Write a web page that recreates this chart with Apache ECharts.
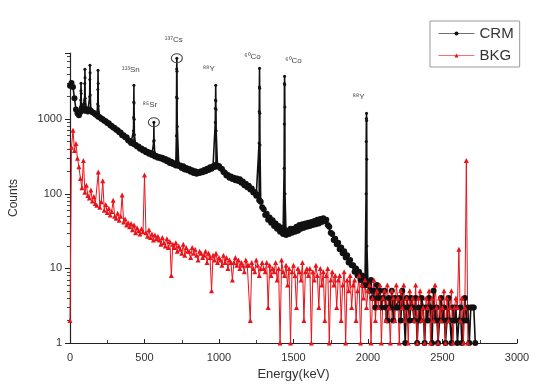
<!DOCTYPE html>
<html>
<head>
<meta charset="utf-8">
<script src="https://cdn.jsdelivr.net/npm/echarts@6/dist/echarts.min.js"></script>
<style>
  html, body {margin: 0; padding: 0; background: #fff;}
  #chart {width: 539px; height: 388px;}
</style>
</head>
<body>
<div id="chart"></div>
<script>
// channel spacing of the continuum arrays (keV)
const step = 10;

// CRM continuum, one value every 10 keV from 0 keV
const crmCounts = [
  2800, 3050, 2700, 1900, 1350, 1200, 1130, 1250, 1420, 1380,
  1300, 1360, 1270, 1350, 1300, 1240, 1210, 1160, 1130, 1080,
  1060, 1010, 1000, 950, 940, 890, 880, 830, 810, 770,
  760, 720, 710, 670, 660, 610, 610, 570, 570, 520,
  510, 480, 490, 460, 455, 430, 430, 400, 405, 380,
  385, 360, 365, 345, 355, 330, 340, 315, 320, 305,
  312, 298, 304, 285, 292, 272, 282, 258, 268, 250,
  256, 240, 252, 236, 240, 222, 234, 212, 222, 206,
  214, 198, 206, 190, 200, 186, 196, 190, 200, 194,
  208, 200, 216, 208, 226, 216, 234, 228, 244, 232,
  236, 220, 214, 196, 192, 176, 178, 164, 170, 158,
  164, 152, 160, 148, 156, 140, 146, 130, 136, 122,
  128, 114, 118, 104, 106, 94, 96, 82, 78, 66,
  62, 52, 54, 45, 48, 41, 44, 37, 40, 34,
  37, 31, 35, 29, 33, 28, 32, 29, 34, 30,
  34, 31, 36, 32, 38, 34, 39, 35, 40, 36,
  41, 37, 42, 38, 43, 39, 45, 40, 46, 42,
  47, 43, 45, 38, 36, 30, 29, 24, 25, 21,
  22, 18, 19, 16, 17, 14, 15, 12, 13, 11,
  11, 9, 10, 8, 9, 7, 8, 6, 7, 6,
  6, 5, 7, 4, 5, 3, 6, 4, 5, 3,
  4, 5, 3, 2, 4, 3, 5, 2, 4, 3,
  3, 4, 2, 5, 3, 1, 4, 3, 2, 4,
  3, 2, 4, 1, 3, 2, 4, 3, 1, 3,
  2, 4, 3, 1, 5, 2, 3, 1, 2, 4,
  2, 3, 1, 2, 4, 2, 1, 3, 2, 3,
  1, 2, 3, 1, 2, 4, 2, 3, 1, 3,
  3, 3, 1
];

// BKG continuum, one value every 10 keV from 0 keV
const bkgCounts = [
  2, 420, 710, 380, 470, 300, 230, 160, 120, 280,
  105, 130, 95, 88, 112, 80, 92, 74, 70, 195,
  66, 78, 150, 60, 72, 56, 64, 52, 58, 82,
  50, 47, 55, 44, 50, 96, 42, 46, 38, 41,
  36, 40, 33, 38, 30, 35, 32, 29, 34, 31,
  178, 30, 27, 33, 26, 29, 24, 28, 25, 27,
  24, 21, 26, 22, 20, 25, 19, 23, 8, 21,
  19, 22, 17, 20, 18, 16, 21, 15, 19, 17,
  17, 14, 19, 16, 18, 15, 13, 17, 16, 14,
  15, 17, 12, 16, 14, 5, 15, 13, 16, 12,
  14, 13, 11, 15, 12, 14, 10, 13, 12, 7,
  12, 14, 11, 13, 10, 12, 11, 9, 13, 11,
  11, 2, 12, 10, 9, 13, 11, 8, 10, 12,
  10, 9, 12, 3, 11, 8, 10, 9, 12, 7,
  10, 1, 13, 9, 8, 11, 6, 10, 1, 9,
  11, 8, 3, 10, 9, 7, 12, 2, 9, 10,
  8, 10, 1, 9, 7, 11, 8, 3, 10, 6,
  9, 2, 8, 10, 1, 7, 9, 6, 8, 3,
  7, 8, 2, 6, 9, 1, 7, 5, 8, 3,
  6, 7, 2, 5, 8, 1, 6, 4, 7, 3,
  5, 6, 1, 4, 7, 2, 5, 3, 6, 1,
  4, 5, 2, 6, 3, 1, 5, 4, 2, 6,
  4, 1, 5, 3, 6, 2, 4, 1, 5, 3,
  4, 2, 6, 1, 4, 5, 2, 3, 1, 4,
  3, 5, 1, 4, 2, 6, 3, 1, 4, 2,
  3, 5, 1, 4, 2, 3, 5, 1, 3, 4,
  3, 18, 2, 4, 1, 3, 280, 1
];

// CRM full-energy peaks: centre energy (keV) and 1 keV channel counts around it
const peakEnergy = [74, 100, 134, 188, 429, 563, 717, 978, 1272, 1440, 1990];
const peakChannels = [
  [1800, 2400, 3030, 2200, 1600],
  [1800, 3000, 4670, 3600, 1900],
  [2000, 3400, 5290, 4200, 2100],
  [1600, 2500, 4530, 3000, 1500],
  [700, 1050, 1700, 2850, 1650, 1000, 620],
  [500, 910, 520],
  [600, 1980, 4700, 6560, 4400, 1900, 800],
  [900, 1400, 1800, 2850, 1750, 1350, 700],
  [480, 1270, 2700, 4820, 2600, 1200, 450],
  [220, 860, 3000, 3770, 2900, 1450, 100],
  [100, 500, 1020, 1200, 960, 290, 20]
];
const peakLabels = ['', '', '', '', '¹¹³Sn', '⁸⁵Sr', '¹³⁷Cs', '⁸⁸Y', '⁶⁰Co', '⁶⁰Co', '⁸⁸Y'];
const circledPeaks = ['⁸⁵Sr', '¹³⁷Cs'];
const labelOffset = [[0, 0], [0, 0], [0, 0], [0, 0], [-3, -15], [-4, -17], [-3, -18], [-7, -16], [-7, -11], [9, -15], [-8, -16]];

const crmPoints = crmCounts.map((c, i) => [i * step, c]);
peakEnergy.forEach((e, k) => {
  const ch = peakChannels[k];
  const half = Math.floor(ch.length / 2);
  ch.forEach((c, j) => crmPoints.push({value: [e - half + j, c], symbolSize: 3}));
});
const xOf = p => (Array.isArray(p) ? p[0] : p.value[0]);
crmPoints.sort((a, b) => xOf(a) - xOf(b));
const bkgPoints = bkgCounts.map((c, i) => [i * step, c]);

const marks = [];
peakEnergy.forEach((e, k) => {
  if (!peakLabels[k]) return;
  const top = Math.max(...peakChannels[k]);
  const circled = circledPeaks.indexOf(peakLabels[k]) >= 0;
  marks.push({
    name: peakLabels[k],
    coord: [e, top],
    symbol: 'circle',
    symbolSize: circled ? [11, 9] : 0,
    itemStyle: {color: 'rgba(0,0,0,0)', borderColor: '#444', borderWidth: 1},
    label: {offset: labelOffset[k]}
  });
});

const plain = v => String(v);

const chart = echarts.init(document.getElementById('chart'));
chart.setOption({
  animation: false,
  textStyle: {fontFamily: 'Liberation Sans, Arial, sans-serif'},
  grid: {left: 69, right: 22, top: 53, bottom: 45},
  legend: {
    data: ['CRM', 'BKG'],
    orient: 'vertical',
    left: 430,
    top: 21,
    itemWidth: 36,
    itemHeight: 5,
    itemGap: 7,
    padding: [5, 6, 4, 8],
    borderColor: '#999',
    borderWidth: 1,
    itemStyle: {borderWidth: 0},
    lineStyle: {width: 1, opacity: 0.6},
    textStyle: {fontSize: 15, color: '#333'}
  },
  xAxis: {
    type: 'value',
    min: 0,
    max: 3000,
    interval: 500,
    name: 'Energy(keV)',
    nameLocation: 'middle',
    nameGap: 24,
    nameTextStyle: {fontSize: 13, color: '#333'},
    splitLine: {show: false},
    axisLine: {lineStyle: {color: '#222', width: 1.2}},
    axisTick: {length: 4, inside: true, lineStyle: {color: '#222'}},
    minorTick: {show: true, splitNumber: 2, length: 3, lineStyle: {color: '#444'}},
    axisLabel: {fontSize: 11, color: '#333', margin: 9, formatter: plain}
  },
  yAxis: {
    type: 'log',
    logBase: 10,
    min: 1,
    max: 7700,
    name: 'Counts',
    nameLocation: 'middle',
    nameGap: 50,
    nameTextStyle: {fontSize: 12, color: '#333'},
    splitLine: {show: false},
    axisLine: {show: true, lineStyle: {color: '#222', width: 1.2}},
    axisTick: {length: 5, lineStyle: {color: '#222'}},
    minorTick: {show: true, splitNumber: 9, length: 3, lineStyle: {color: '#444'}},
    axisLabel: {fontSize: 11, color: '#333', margin: 8, showMaxLabel: false, formatter: plain}
  },
  series: [
    {
      name: 'CRM',
      type: 'line',
      data: crmPoints,
      symbol: 'circle',
      symbolSize: 6,
      lineStyle: {color: '#111', width: 1.6},
      itemStyle: {color: '#111'},
      markPoint: {
        data: marks,
        label: {
          show: true,
          formatter: '{b}',
          position: 'inside',
          fontSize: 8,
          color: '#444'
        }
      }
    },
    {
      name: 'BKG',
      type: 'line',
      data: bkgPoints,
      symbol: 'triangle',
      symbolSize: 5,
      lineStyle: {color: '#e8141a', width: 1},
      itemStyle: {color: '#e8141a'}
    }
  ]
});
</script>
</body>
</html>
